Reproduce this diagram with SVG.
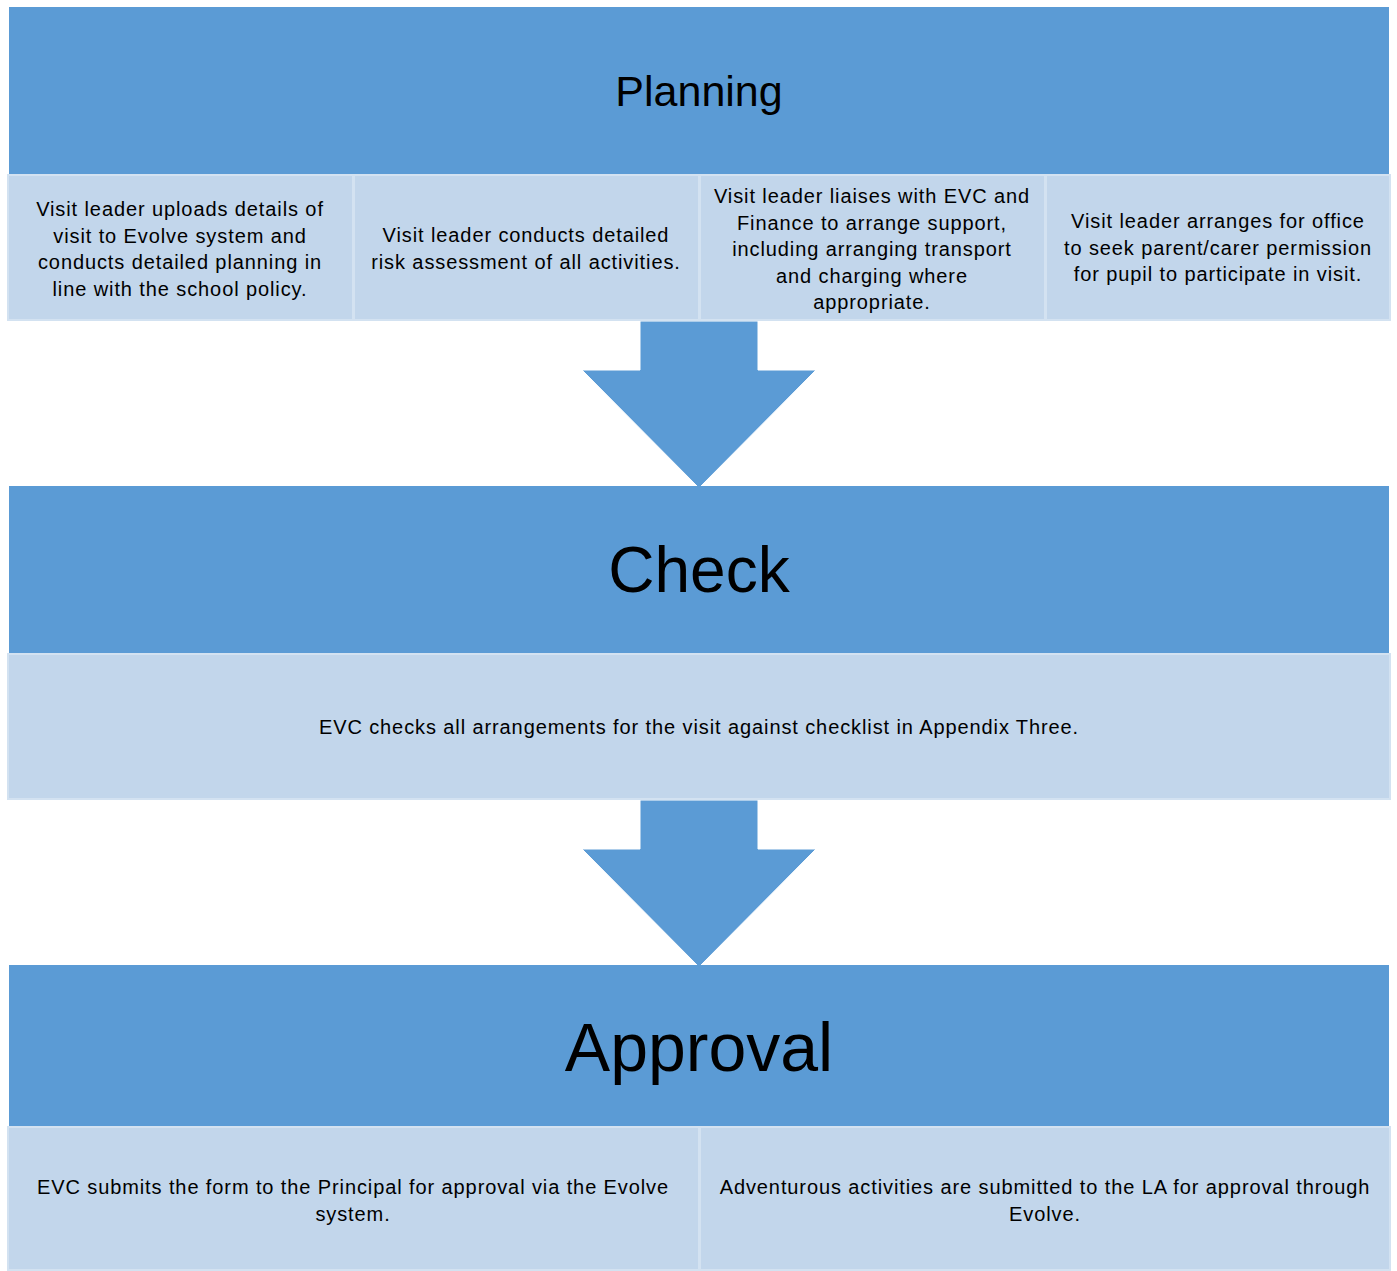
<svg xmlns="http://www.w3.org/2000/svg" width="1397" height="1271" viewBox="0 0 1397 1271">
<style>
.hdr{fill:#5B9BD5;}
.cell{fill:#C2D6EB;stroke:#D3E2F1;stroke-width:2;}
.arrow{fill:#5B9BD5;stroke:#FFFFFF;stroke-width:1;}
.t{font-family:"Liberation Sans",Arial,sans-serif;font-size:20px;letter-spacing:0.9px;fill:#000;text-anchor:middle;}
.h{font-family:"Liberation Sans",Arial,sans-serif;fill:#000;text-anchor:middle;}
</style>
<rect width="1397" height="1271" fill="#FFFFFF"/>
<g id="connectors">
<path class="arrow" d="M640,321 H758 V370 H816 L699,488 L582,370 H640 Z"/>
<path class="arrow" d="M640,800 H758 V849 H816 L699,967 L582,849 H640 Z"/>
</g>
<g id="planning">
<rect class="hdr" x="9" y="7" width="1380" height="167"/>
<text class="h" x="699" y="106" font-size="43">Planning</text>
</g>
<g id="planning-1">
<rect class="cell" x="8" y="175" width="345" height="145"/>
<text class="t" x="180"><tspan x="180" y="216">Visit leader uploads details of</tspan><tspan x="180" y="242.5">visit to Evolve system and</tspan><tspan x="180" y="269">conducts detailed planning in</tspan><tspan x="180" y="295.5">line with the school policy.</tspan></text>
</g>
<g id="planning-2">
<rect class="cell" x="354" y="175" width="345" height="145"/>
<text class="t" x="526"><tspan x="526" y="242">Visit leader conducts detailed</tspan><tspan x="526" y="268.5">risk assessment of all activities.</tspan></text>
</g>
<g id="planning-3">
<rect class="cell" x="700" y="175" width="345" height="145"/>
<text class="t" x="872"><tspan x="872" y="203">Visit leader liaises with EVC and</tspan><tspan x="872" y="229.5">Finance to arrange support,</tspan><tspan x="872" y="256">including arranging transport</tspan><tspan x="872" y="282.5">and charging where</tspan><tspan x="872" y="309">appropriate.</tspan></text>
</g>
<g id="planning-4">
<rect class="cell" x="1046" y="175" width="344" height="145"/>
<text class="t" x="1218"><tspan x="1218" y="228">Visit leader arranges for office</tspan><tspan x="1218" y="254.5">to seek parent/carer permission</tspan><tspan x="1218" y="281">for pupil to participate in visit.</tspan></text>
</g>
<g id="check">
<rect class="hdr" x="9" y="486" width="1380" height="167"/>
<text class="h" x="699" y="592" font-size="64">Check</text>
</g>
<g id="check-1">
<rect class="cell" x="8" y="654" width="1382" height="145"/>
<text class="t" x="699" y="734">EVC checks all arrangements for the visit against checklist in Appendix Three.</text>
</g>
<g id="approval">
<rect class="hdr" x="9" y="965" width="1380" height="161"/>
<text class="h" x="699" y="1071" font-size="68">Approval</text>
</g>
<g id="approval-1">
<rect class="cell" x="8" y="1127" width="691" height="143"/>
<text class="t" x="353"><tspan x="353" y="1194">EVC submits the form to the Principal for approval via the Evolve</tspan><tspan x="353" y="1221">system.</tspan></text>
</g>
<g id="approval-2">
<rect class="cell" x="700" y="1127" width="690" height="143"/>
<text class="t" x="1045"><tspan x="1045" y="1194">Adventurous activities are submitted to the LA for approval through</tspan><tspan x="1045" y="1221">Evolve.</tspan></text>
</g>
</svg>
